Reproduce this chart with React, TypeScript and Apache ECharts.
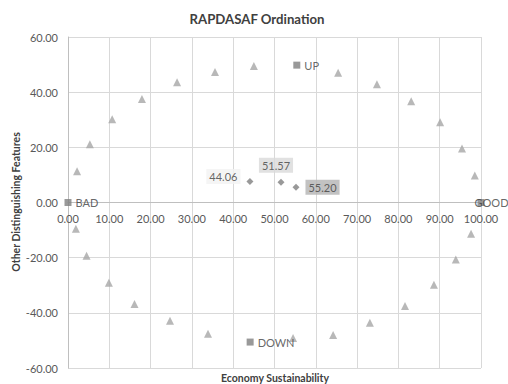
import React, { useEffect, useRef } from "react";
import * as echarts from "echarts";

// Ordination scores of the simulated anchors (triangles)
const anchorX = [2.2, 5.3, 10.7, 17.9, 26.4, 35.6, 45.0, 65.4, 74.8, 83.1, 90.1, 95.4, 98.5,
  1.9, 4.5, 9.9, 16.1, 24.7, 33.9, 54.5, 64.2, 73.1, 81.6, 88.6, 93.9, 97.6];
const anchorY = [11.3, 21.1, 30.2, 37.5, 43.6, 47.3, 49.5, 47.0, 42.9, 36.7, 29.1, 19.6, 9.8,
  -9.5, -19.3, -29.1, -36.8, -42.9, -47.6, -49.1, -48.0, -43.6, -37.5, -29.8, -20.7, -11.3];

// Reference points
const refNames = ["UP", "DOWN", "BAD", "GOOD"];
const refX = [55.4, 44.1, 0, 100];
const refY = [49.8, -50.6, 0, 0];

// Sustainability scores
const scoreX = [44.06, 51.57, 55.2];
const scoreY = [7.6, 7.3, 5.5];

const xTicks = { min: 0, max: 100, interval: 10 };
const yTicks = { min: -60, max: 60, interval: 20 };

const FONT = "Lato, 'Open Sans', sans-serif";

const GRID = { left: 68, right: 27, top: 37, bottom: 16 };
const CHART_H = 384;

export default function App() {
  const ref = useRef<HTMLDivElement>(null);

  useEffect(() => {
    if (!ref.current) return;
    const chart = echarts.init(ref.current, undefined, { renderer: "svg" });

    // Place the x axis on the y = 0 line (axis offset measured from the grid bottom)
    const plotH = CHART_H - GRID.top - GRID.bottom;
    const zeroFromBottom = (plotH * (0 - yTicks.min)) / (yTicks.max - yTicks.min);

    const scoreLabelStyles = [
      { position: "left", backgroundColor: "#f2f2f2", offset: [0, -5] },
      { position: "top", backgroundColor: "#d9d9d9", offset: [-5, 0] },
      { position: "right", backgroundColor: "#b3b3b3", offset: [0, 0] },
    ];

    const refLabelOffsets: Record<string, number[]> = {
      UP: [0, 0],
      DOWN: [0, 0],
      BAD: [0, 0],
      GOOD: [-14, 0],
    };

    chart.setOption({
      animation: false,
      textStyle: { fontFamily: FONT },
      title: {
        text: "RAPDASAF Ordination",
        left: 252,
        top: 7,
        textAlign: "center",
        textStyle: { fontFamily: FONT, fontSize: 13.2, fontWeight: "bold", color: "#404040" },
      },
      grid: { ...GRID, containLabel: false },
      xAxis: {
        type: "value",
        ...xTicks,
        offset: -zeroFromBottom,
        axisLine: { show: true, onZero: false, lineStyle: { color: "#bfbfbf" } },
        axisTick: { show: false },
        axisLabel: {
          formatter: (v: number) => v.toFixed(2),
          color: "#595959",
          fontSize: 11,
          fontFamily: FONT,
          margin: 10,
        },
        splitLine: { show: true, lineStyle: { color: "#d9d9d9" } },
      },
      yAxis: {
        type: "value",
        ...yTicks,
        axisLine: { show: true, onZero: false, lineStyle: { color: "#bfbfbf" } },
        axisTick: { show: false },
        axisLabel: {
          formatter: (v: number) => v.toFixed(2),
          color: "#595959",
          fontSize: 11,
          fontFamily: FONT,
          margin: 10,
        },
        splitLine: { show: true, lineStyle: { color: "#d9d9d9" } },
      },
      graphic: [
        {
          type: "text",
          x: 275,
          y: 378,
          style: {
            text: "Economy Sustainability",
            fontFamily: FONT,
            fontSize: 10.5,
            fontWeight: "bold",
            fill: "#404040",
            textAlign: "center",
            textVerticalAlign: "middle",
          },
        },
        {
          type: "text",
          x: 16,
          y: 202,
          rotation: Math.PI / 2,
          style: {
            text: "Other Distinguishing Features",
            fontFamily: FONT,
            fontSize: 10.5,
            fontWeight: "bold",
            fill: "#404040",
            textAlign: "center",
            textVerticalAlign: "middle",
          },
        },
      ],
      series: [
        {
          type: "scatter",
          symbol: "triangle",
          symbolSize: 8,
          itemStyle: { color: "#a6a6a6" },
          data: anchorX.map((x, i) => [x, anchorY[i]]),
          z: 2,
        },
        {
          type: "scatter",
          symbol: "rect",
          symbolSize: 7,
          itemStyle: { color: "#7f7f7f" },
          z: 3,
          data: refNames.map((n, i) => ({
            value: [refX[i], refY[i]],
            name: n,
            label: {
              show: true,
              position: "right",
              distance: 4,
              offset: refLabelOffsets[n],
              formatter: n,
              color: "#404040",
              fontSize: 11,
              fontFamily: FONT,
            },
          })),
        },
        {
          type: "scatter",
          symbol: "diamond",
          symbolSize: 7,
          itemStyle: { color: "#7f7f7f" },
          z: 4,
          data: scoreX.map((x, i) => ({
            value: [x, scoreY[i]],
            label: {
              show: true,
              position: scoreLabelStyles[i].position,
              offset: scoreLabelStyles[i].offset,
              distance: 6,
              formatter: x.toFixed(2),
              backgroundColor: scoreLabelStyles[i].backgroundColor,
              padding: [2, 3],
              color: "#404040",
              fontSize: 11,
              fontFamily: FONT,
            },
          })),
        },
      ],
    });

    return () => chart.dispose();
  }, []);

  return <div ref={ref} style={{ width: 508, height: 384, position: "absolute", left: 0, top: 0, background: "#fff" }} />;
}
